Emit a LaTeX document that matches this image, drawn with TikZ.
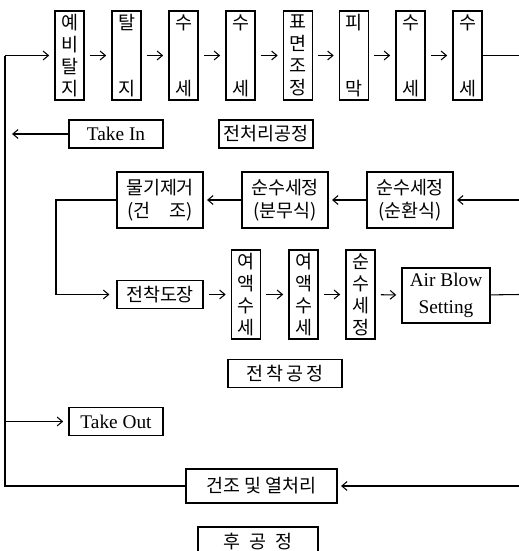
\documentclass[tikz,border=0pt]{standalone}
\usepackage{fontspec}
\setmainfont{Liberation Serif}
\newfontfamily\kr{Noto Sans CJK KR}
\usetikzlibrary{arrows.meta}

\tikzset{
  vbox/.style={draw, inner sep=0pt, minimum width=0.58cm, minimum height=1.78cm,
    align=center, font=\kr\fontsize{10.5}{12.5}\selectfont},
  wbox/.style={draw, inner sep=0pt, minimum width=1.72cm, minimum height=1.12cm,
    align=center, font=\kr\fontsize{10.5}{13}\selectfont},
  lbox/.style={draw, inner sep=0pt, minimum height=0.56cm, font=\kr\fontsize{10.5}{12}\selectfont},
  ebox/.style={draw, inner sep=0pt, minimum height=0.56cm, minimum width=1.88cm,
    font=\fontsize{11}{13}\selectfont},
}

\begin{document}
\begin{tikzpicture}[x=0.02cm,y=-0.02cm,line width=0.6pt,
  >={Straight Barb[length=3pt,width=5pt]}]
\useasboundingbox (0,0) rectangle (519,551);

% rand in ovinki
\coordinate (ltop) at (5,55.5);
\coordinate (lbot) at (5,486);
\coordinate (ltin) at (5,134);
\coordinate (ltout) at (5,421.5);
\coordinate (r1) at (519,55.5);
\coordinate (r2) at (519,200);
\coordinate (r3) at (519,294.5);
\coordinate (r4) at (519,486);
\coordinate (k1) at (56,200);
\coordinate (k2) at (56,294.5);

% pretreatment
\node[vbox] (p1) at (69.5,55.5) {예\\비\\탈\\지};
\node[vbox] (p2) at (126.5,55.5) {탈\\[25pt]지};
\node[vbox] (p3) at (183.5,55.5) {수\\[25pt]세};
\node[vbox] (p4) at (240.5,55.5) {수\\[25pt]세};
\node[vbox] (p5) at (298,55.5) {표\\면\\조\\정};
\node[vbox] (p6) at (354,55.5) {피\\[25pt]막};
\node[vbox] (p7) at (410.5,55.5) {수\\[25pt]세};
\node[vbox] (p8) at (467.5,55.5) {수\\[25pt]세};

\node[ebox] (tin) at (116,134) {Take In};
\node[lbox,minimum width=1.88cm] (pre) at (266,134) {전처리공정};

\node[wbox] (w1) at (160,200) {물기제거\\(건\quad 조)};
\node[wbox] (w2) at (285,200) {순수세정\\(분무식)};
\node[wbox] (w3) at (410,200) {순수세정\\(순환식)};

% electrodeposition
\node[lbox,minimum width=1.72cm] (ed) at (160,294.5) {전착도장};
\node[vbox] (q1) at (246,294.5) {여\\액\\수\\세};
\node[vbox] (q2) at (303.5,294.5) {여\\액\\수\\세};
\node[vbox] (q3) at (360.5,294.5) {순\\수\\세\\정};
\node[wbox,minimum width=1.76cm,minimum height=1.1cm,font=\fontsize{11}{15}\selectfont]
  (ab) at (446,295.5) {Air Blow\\Setting};
\node[lbox,minimum width=2.28cm] (edp) at (285,373.5) {전\,착\,공\,정};

\node[ebox] (tout) at (116,421.5) {Take Out};
\node[lbox,minimum width=3.02cm,minimum height=0.68cm] (dry) at (261.5,486) {건조 및 열처리};
\node[lbox,minimum width=2.4cm,minimum height=0.6cm] (post) at (258,542) {후\enspace 공\enspace 정};

\foreach \a/\b in {p1/p2,p2/p3,p3/p4,p4/p5,p5/p6,p6/p7,p7/p8,ed/q1,q1/q2,q2/q3,q3/ab}
\draw[->,shorten <=3pt,shorten >=3pt] (\a)--(\b);
\foreach \a/\b in {r2/w3,w3/w2,w2/w1,r4/dry}
\draw[->,shorten >=2pt] (\a)--(\b);

\draw (p8)--(r1);
\draw (ab)--(r3);
\draw[->,shorten >=3pt] (ltop)--(p1);
\draw (ltop)--(lbot)--(dry);
\draw[->,shorten >=4pt] (tin)--(ltin);
\draw[->,shorten >=3pt] (ltout)--(tout);
\draw[->,shorten >=4pt] (w1.west)--(k1)--(k2)--(ed);
\end{tikzpicture}
\end{document}
